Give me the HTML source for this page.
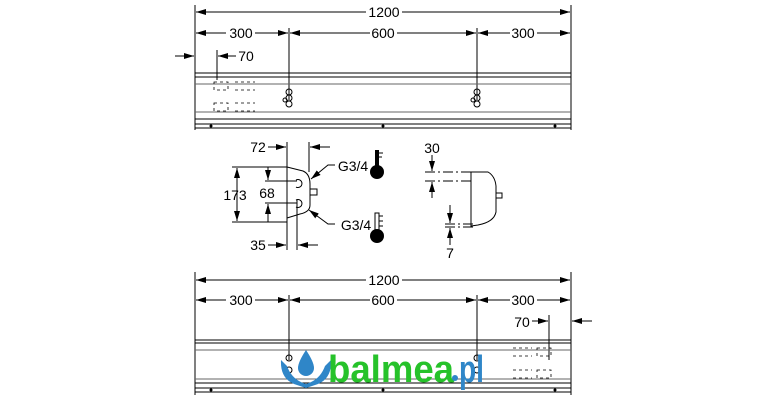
<!DOCTYPE html>
<html><head><meta charset="utf-8"><style>
html,body{margin:0;padding:0;background:#fff;}
svg{display:block;font-family:"Liberation Sans",sans-serif;}
</style></head><body>
<svg width="770" height="400" viewBox="0 0 770 400" xmlns="http://www.w3.org/2000/svg">
<defs>
<marker id="a" viewBox="0 0 10 6" refX="10" refY="3" markerWidth="10" markerHeight="6" markerUnits="userSpaceOnUse" orient="auto-start-reverse"><path d="M0,0L10,3L0,6z" fill="#000"/></marker>
</defs>
<g stroke="#000" stroke-width="1" fill="none">
<line x1="195" y1="5" x2="195" y2="130"/><line x1="571" y1="5" x2="571" y2="130"/>
<line x1="289" y1="28" x2="289" y2="100"/><line x1="477" y1="28" x2="477" y2="100"/>
<line x1="196" y1="12" x2="368" y2="12" marker-start="url(#a)"/><line x1="400" y1="12" x2="570" y2="12" marker-end="url(#a)"/>
<line x1="196" y1="33" x2="226" y2="33" marker-start="url(#a)"/><line x1="255" y1="33" x2="288" y2="33" marker-end="url(#a)"/>
<line x1="290" y1="33" x2="370" y2="33" marker-start="url(#a)"/><line x1="397" y1="33" x2="476" y2="33" marker-end="url(#a)"/>
<line x1="478" y1="33" x2="510" y2="33" marker-start="url(#a)"/><line x1="537" y1="33" x2="570" y2="33" marker-end="url(#a)"/>
<line x1="175" y1="56" x2="194" y2="56" marker-end="url(#a)"/>
<line x1="217" y1="50" x2="217" y2="80"/><line x1="218" y1="56" x2="236" y2="56" marker-start="url(#a)"/>
<line x1="195" y1="73" x2="571" y2="73"/><line x1="195" y1="77" x2="571" y2="77"/><line x1="195" y1="84" x2="571" y2="84" stroke="#666"/>
<line x1="195" y1="112" x2="571" y2="112" stroke="#666"/><line x1="195" y1="119" x2="571" y2="119"/><line x1="195" y1="124" x2="571" y2="124"/><line x1="195" y1="128" x2="571" y2="128"/>
<g stroke-dasharray="3,3" stroke-width="0.8"><rect x="214" y="82" width="14" height="8"/><rect x="214" y="103" width="14" height="8"/><line x1="235" y1="82" x2="255" y2="82"/><line x1="235" y1="90" x2="255" y2="90"/><line x1="235" y1="103" x2="255" y2="103"/><line x1="235" y1="111" x2="255" y2="111"/></g>
<circle cx="289" cy="92" r="3"/><circle cx="289" cy="98" r="3"/><circle cx="289" cy="104" r="3"/><circle cx="285" cy="100" r="2"/>
<circle cx="477" cy="92" r="3"/><circle cx="477" cy="98" r="3"/><circle cx="477" cy="104" r="3"/><circle cx="473" cy="100" r="2"/>
<line x1="287" y1="142" x2="287" y2="250"/><line x1="309" y1="142" x2="309" y2="172"/><line x1="297" y1="200" x2="297" y2="250"/>
<line x1="232" y1="167" x2="287" y2="167"/><line x1="232" y1="222" x2="287" y2="222"/>
<line x1="237" y1="168" x2="237" y2="221" marker-start="url(#a)" marker-end="url(#a)"/>
<line x1="265" y1="181" x2="297" y2="181"/><line x1="265" y1="203" x2="297" y2="203"/>
<line x1="268" y1="167" x2="268" y2="180" marker-end="url(#a)"/><line x1="268" y1="222" x2="268" y2="204" marker-end="url(#a)"/>
<line x1="268" y1="147" x2="286" y2="147" marker-end="url(#a)"/><line x1="330" y1="147" x2="310" y2="147" marker-end="url(#a)"/>
<line x1="268" y1="245" x2="286" y2="245" marker-end="url(#a)"/><line x1="318" y1="245" x2="298" y2="245" marker-end="url(#a)"/>
<path d="M287,167 L303,171 Q310,174 310,184 L310,205 Q310,212 300,214 L287,218"/>
<rect x="310" y="189" width="7" height="6"/>
<path d="M296,180 a4,4 0 1 1 0,7" /><path d="M296,200 a4,4 0 1 1 0,7"/>
<polyline points="335,165 328,165 311,179" marker-end="url(#a)"/>
<polyline points="335,224 328,224 309,210" marker-end="url(#a)"/>
<line x1="425" y1="172" x2="471" y2="172" stroke-dasharray="10,3,2,3"/><line x1="425" y1="181" x2="471" y2="181" stroke-dasharray="10,3,2,3"/>
<line x1="432" y1="155" x2="432" y2="171" marker-end="url(#a)"/><line x1="432" y1="198" x2="432" y2="182" marker-end="url(#a)"/>
<line x1="445" y1="224" x2="475" y2="224" stroke-dasharray="10,3,2,3"/><line x1="445" y1="227" x2="475" y2="227" stroke-dasharray="10,3,2,3"/>
<line x1="450" y1="205" x2="450" y2="223" marker-end="url(#a)"/><line x1="450" y1="245" x2="450" y2="228" marker-end="url(#a)"/>
<path d="M471,172 L488,172 Q495,176 496,186 L496,212 Q494,222 478,225 L471,226 Z"/>
<rect x="496" y="193" width="6" height="5"/>
<line x1="195" y1="272" x2="195" y2="395"/><line x1="571" y1="272" x2="571" y2="395"/>
<line x1="289" y1="295" x2="289" y2="360"/><line x1="477" y1="295" x2="477" y2="360"/>
<line x1="196" y1="280" x2="368" y2="280" marker-start="url(#a)"/><line x1="400" y1="280" x2="570" y2="280" marker-end="url(#a)"/>
<line x1="196" y1="300" x2="226" y2="300" marker-start="url(#a)"/><line x1="255" y1="300" x2="288" y2="300" marker-end="url(#a)"/>
<line x1="290" y1="300" x2="370" y2="300" marker-start="url(#a)"/><line x1="397" y1="300" x2="476" y2="300" marker-end="url(#a)"/>
<line x1="478" y1="300" x2="510" y2="300" marker-start="url(#a)"/><line x1="537" y1="300" x2="570" y2="300" marker-end="url(#a)"/>
<line x1="592" y1="321" x2="572" y2="321" marker-end="url(#a)"/>
<line x1="549" y1="315" x2="549" y2="360"/><line x1="532" y1="321" x2="548" y2="321" marker-end="url(#a)"/>
<line x1="195" y1="340" x2="571" y2="340"/><line x1="195" y1="343" x2="571" y2="343"/><line x1="195" y1="350" x2="571" y2="350" stroke="#666"/>
<line x1="195" y1="379" x2="571" y2="379" stroke="#666"/><line x1="195" y1="383" x2="571" y2="383"/><line x1="195" y1="388" x2="571" y2="388"/><line x1="195" y1="392" x2="571" y2="392"/>
<g stroke-dasharray="3,3" stroke-width="0.8"><rect x="537" y="348" width="14" height="8"/><rect x="537" y="370" width="14" height="8"/><line x1="513" y1="348" x2="532" y2="348"/><line x1="513" y1="356" x2="532" y2="356"/><line x1="513" y1="370" x2="532" y2="370"/><line x1="513" y1="378" x2="532" y2="378"/></g>
<circle cx="289" cy="358" r="3"/><circle cx="289" cy="370" r="3"/><circle cx="477" cy="358" r="3"/><circle cx="477" cy="370" r="3"/>
</g>
<g fill="#000">
<circle cx="211" cy="126" r="1.5"/><circle cx="383" cy="126" r="1.5"/><circle cx="555" cy="126" r="1.5"/>
<circle cx="211" cy="390" r="1.5"/><circle cx="383" cy="390" r="1.5"/><circle cx="555" cy="390" r="1.5"/>
<rect x="375" y="150" width="4" height="18"/><circle cx="377" cy="172" r="7"/>
<line x1="379" y1="153" x2="383" y2="153" stroke="#000"/><line x1="379" y1="157" x2="382" y2="157" stroke="#000"/>
<rect x="375" y="213" width="4" height="18" fill="none" stroke="#000"/><circle cx="377" cy="236" r="7"/>
<line x1="379" y1="216" x2="383" y2="216" stroke="#000"/><line x1="379" y1="221" x2="383" y2="221" stroke="#000"/><line x1="379" y1="226" x2="383" y2="226" stroke="#000"/>
</g>
<g font-size="14" fill="#000" text-anchor="middle">
<rect x="366" y="4" width="36" height="16" fill="#fff"/><text x="384" y="17">1200</text>
<text x="241" y="38">300</text><text x="383" y="38">600</text><text x="523" y="38">300</text>
<text x="246" y="61">70</text>
<text x="258" y="152">72</text>
<text x="235" y="200">173</text><text x="267" y="198">68</text>
<text x="258" y="250">35</text>
<text x="353" y="171">G3/4</text><text x="356" y="230">G3/4</text>
<text x="432" y="153">30</text><text x="450" y="258">7</text>
<rect x="366" y="272" width="36" height="16" fill="#fff"/><text x="384" y="285">1200</text>
<text x="241" y="305">300</text><text x="383" y="305">600</text><text x="523" y="305">300</text>
<text x="522" y="327">70</text>
</g>
<g>
<path d="M306,350 Q298,362 298,368 a8,8 0 0 0 16,0 Q314,362 306,350z" fill="#2f86c8"/>
<path d="M281,360 Q280,378 294,384 L306,388 L306,384 Q292,380 287,366z" fill="#2f86c8"/>
<path d="M331,360 Q332,378 318,384 L306,388 L306,384 Q320,380 325,366z" fill="#2f86c8"/>
<text x="328" y="382" font-size="38" font-weight="bold" fill="#26c22a" textLength="126" lengthAdjust="spacingAndGlyphs">balmea</text>
<circle cx="455" cy="378" r="3" fill="#2f86c8"/>
<text x="459" y="382" font-size="38" font-weight="bold" fill="#2f86c8" textLength="25" lengthAdjust="spacingAndGlyphs">pl</text>
</g>
</svg>
</body></html>
